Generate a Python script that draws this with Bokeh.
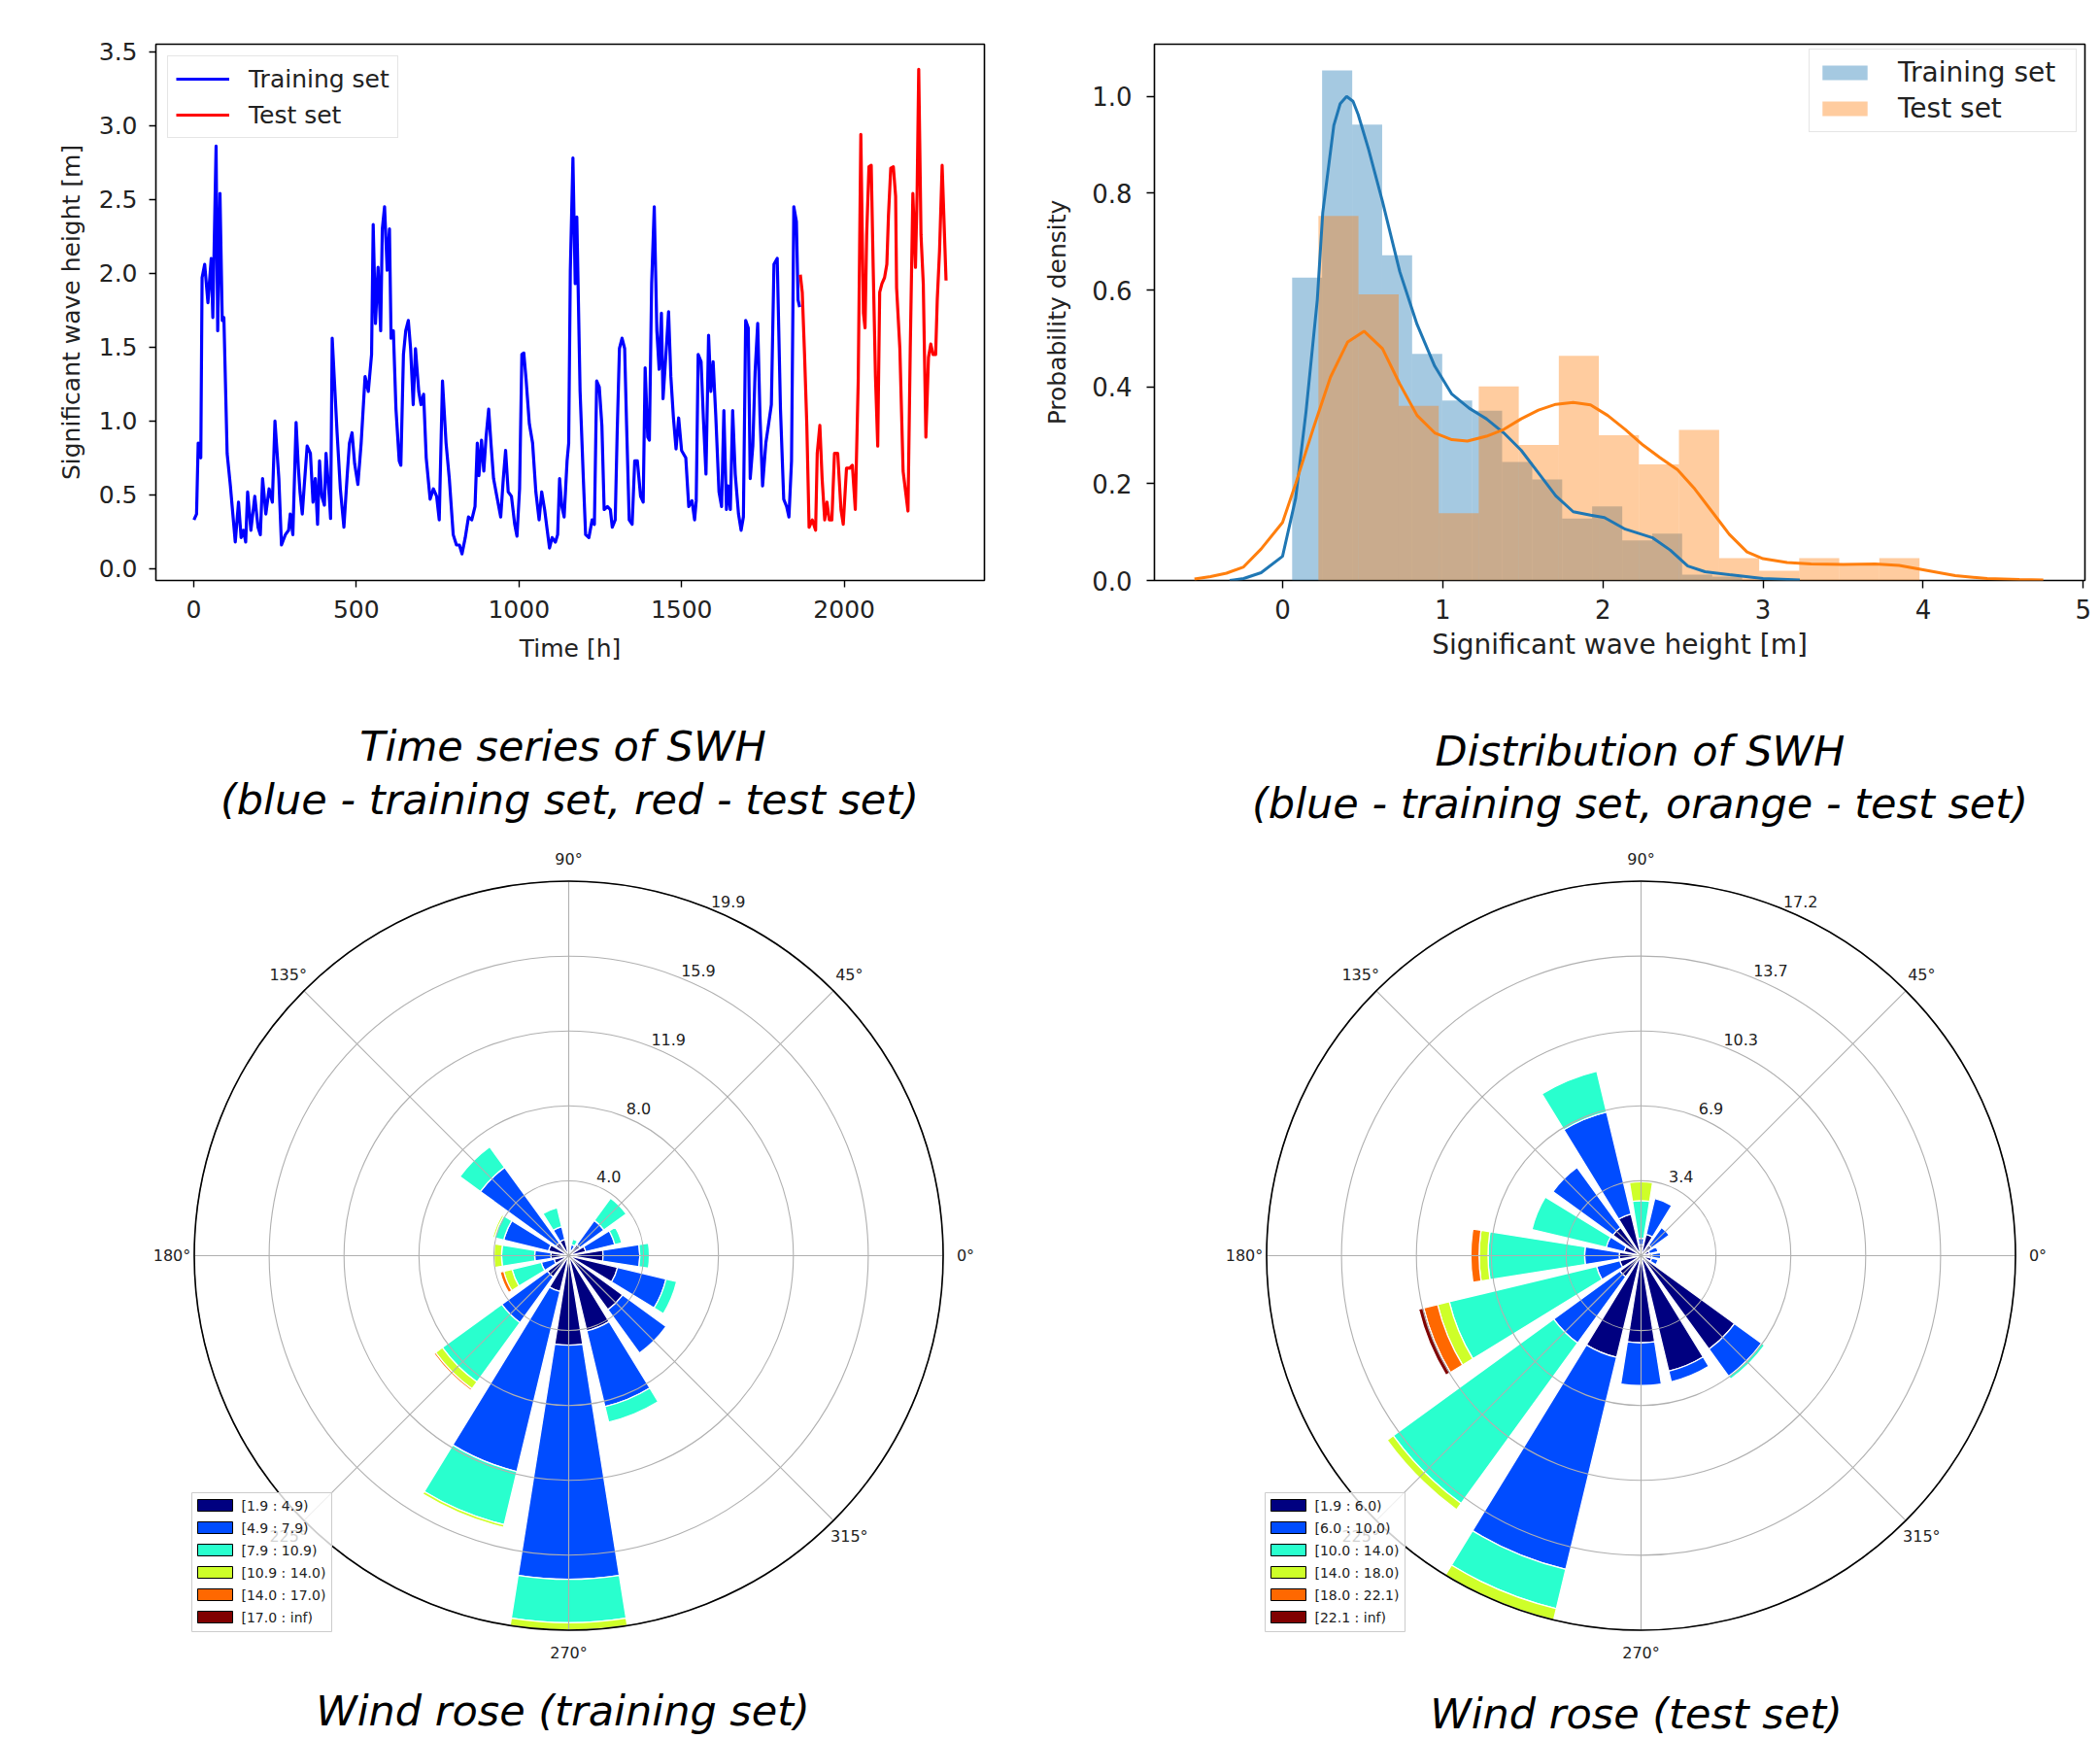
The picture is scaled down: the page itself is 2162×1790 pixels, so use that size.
import numpy as np
from bokeh.plotting import figure
from bokeh.models import (Range1d, FixedTicker, PrintfTickFormatter, Legend,
                          LegendItem, ColumnDataSource)
from bokeh.layouts import row, column
from bokeh.embed import file_html
from bokeh.resources import INLINE
from bokeh.core.properties import value

FONT = "DejaVu Sans"
TXT = "#222222"

# ---------------- time series (SWH) ----------------
train_t = [1, 9, 14, 22, 26, 34, 44, 54, 59, 69, 74, 81, 88, 93, 103, 113, 128, 138, 146, 153,
           160, 166, 176, 188, 198, 205, 212, 222, 232, 242, 250, 262, 270, 282, 292, 297, 305,
           315, 322, 327, 334, 340, 349, 359, 367, 374, 381, 387, 394, 402, 407, 417, 421, 426,
           441, 451, 462, 472, 479, 487, 495, 505, 515, 527, 537, 547, 552, 559, 567, 575, 580,
           587, 595, 602, 607, 614, 622, 632, 637, 645, 652, 660, 667, 675, 682, 692, 699, 707,
           715, 727, 737, 747, 755, 765, 776, 786, 798, 808, 817, 825, 835, 845, 855, 865, 872,
           877, 885, 892, 899, 907, 914, 922, 932, 944, 952, 959, 967, 977, 987, 994, 1002, 1009,
           1015, 1022, 1032, 1042, 1052, 1062, 1070, 1079, 1087, 1094, 1102, 1112, 1119, 1125,
           1132, 1139, 1148, 1153, 1158, 1166, 1173, 1178, 1188, 1198, 1205, 1215, 1225, 1232,
           1239, 1247, 1255, 1262, 1272, 1281, 1287, 1296, 1302, 1309, 1317, 1325, 1331, 1339,
           1348, 1356, 1364, 1374, 1382, 1388, 1396, 1401, 1408, 1416, 1424, 1431, 1438, 1443,
           1453, 1460, 1467, 1475, 1483, 1491, 1500, 1513, 1522, 1532, 1540, 1545, 1551, 1560,
           1567, 1575, 1583, 1590, 1597, 1605, 1615, 1623, 1630, 1638, 1643, 1650, 1657, 1665,
           1675, 1683, 1690, 1697, 1705, 1711, 1719, 1726, 1734, 1741, 1749, 1759, 1767, 1776,
           1784, 1794, 1804, 1814, 1823, 1830, 1838, 1845, 1853, 1858, 1863]
train_swh = [0.33, 0.37, 0.85, 0.75, 1.97, 2.06, 1.80, 2.10, 1.70, 2.86, 1.61, 2.54, 1.68, 1.70,
             0.78, 0.56, 0.18, 0.45, 0.21, 0.26, 0.18, 0.52, 0.26, 0.49, 0.28, 0.23, 0.61, 0.37,
             0.54, 0.45, 1.00, 0.61, 0.16, 0.23, 0.26, 0.37, 0.23, 0.99, 0.68, 0.52, 0.37, 0.56,
             0.83, 0.78, 0.45, 0.61, 0.30, 0.73, 0.49, 0.43, 0.78, 0.49, 0.34, 1.56, 0.92, 0.54,
             0.28, 0.63, 0.85, 0.92, 0.71, 0.57, 0.85, 1.30, 1.20, 1.45, 2.33, 1.66, 2.04, 1.61,
             2.30, 2.45, 2.02, 2.30, 1.56, 1.61, 1.08, 0.73, 0.70, 1.45, 1.61, 1.68, 1.49, 1.11,
             1.49, 1.20, 1.11, 1.18, 0.75, 0.47, 0.54, 0.49, 0.33, 1.27, 0.85, 0.61, 0.23, 0.16,
             0.16, 0.10, 0.21, 0.35, 0.33, 0.42, 0.85, 0.63, 0.87, 0.66, 0.89, 1.08, 0.85, 0.61,
             0.49, 0.35, 0.61, 0.80, 0.52, 0.49, 0.30, 0.22, 0.54, 1.45, 1.46, 1.28, 0.98, 0.85,
             0.52, 0.33, 0.52, 0.40, 0.26, 0.14, 0.21, 0.18, 0.23, 0.61, 0.42, 0.35, 0.73, 0.85,
             2.02, 2.78, 1.93, 2.38, 1.20, 0.61, 0.23, 0.21, 0.33, 0.30, 1.27, 1.23, 0.97, 0.40,
             0.42, 0.40, 0.28, 0.33, 0.92, 1.49, 1.56, 1.49, 0.97, 0.33, 0.30, 0.73, 0.73, 0.49,
             0.45, 1.36, 0.89, 0.87, 1.93, 2.45, 1.61, 1.35, 1.73, 1.15, 1.49, 1.74, 1.30, 1.02,
             0.81, 1.02, 0.80, 0.75, 0.42, 0.46, 0.33, 0.46, 1.45, 1.40, 1.02, 0.64, 1.58, 1.20,
             1.40, 1.04, 0.52, 0.42, 1.07, 0.40, 0.56, 0.40, 1.07, 0.64, 0.37, 0.26, 0.35, 1.68,
             1.63, 0.61, 0.83, 1.33, 1.66, 1.04, 0.56, 0.85, 0.97, 1.11, 2.06, 2.10, 1.08, 0.47,
             0.42, 0.35, 0.73, 2.45, 2.35, 1.82, 1.77]
test_t = [1865, 1871, 1878, 1885, 1892, 1902, 1912, 1917, 1925, 1932, 1940, 1947, 1954, 1962,
          1970, 1980, 1990, 1997, 2007, 2017, 2025, 2034, 2043, 2051, 2059, 2064, 2069, 2076,
          2083, 2089, 2096, 2103, 2109, 2116, 2124, 2131, 2136, 2143, 2151, 2158, 2161, 2171,
          2181, 2196, 2203, 2211, 2219, 2224, 2229, 2236, 2243, 2251, 2259, 2266, 2273, 2281,
          2286, 2293, 2301, 2313]
test_swh = [1.99, 1.87, 1.45, 0.97, 0.28, 0.33, 0.26, 0.78, 0.97, 0.61, 0.33, 0.45, 0.33, 0.33,
            0.78, 0.78, 0.40, 0.30, 0.68, 0.68, 0.70, 0.40, 1.27, 2.94, 1.73, 1.63, 2.26, 2.72,
            2.73, 2.04, 1.30, 0.83, 1.87, 1.93, 1.97, 2.06, 2.39, 2.71, 2.72, 2.52, 1.90, 1.49,
            0.66, 0.39, 1.49, 2.54, 2.04, 2.54, 3.38, 2.26, 1.93, 0.89, 1.43, 1.52, 1.45, 1.45,
            1.82, 2.15, 2.73, 1.95]
ts_xticks = [0, 500, 1000, 1500, 2000]
ts_yticks = [0.0, 0.5, 1.0, 1.5, 2.0, 2.5, 3.0, 3.5]

# ---------------- distribution (histogram + KDE) ----------------
train_edges = [0.06, 0.247, 0.435, 0.622, 0.809, 0.997, 1.184, 1.371, 1.559, 1.746, 1.933,
               2.121, 2.308, 2.495, 2.683, 2.87]
train_density = [0.626, 1.054, 0.942, 0.672, 0.468, 0.372, 0.351, 0.245, 0.209, 0.128, 0.153,
                 0.083, 0.097, 0.012, 0.008]
test_edges = [0.224, 0.474, 0.725, 0.975, 1.225, 1.475, 1.725, 1.975, 2.225, 2.475, 2.726,
              2.976, 3.226, 3.476, 3.726, 3.977]
test_density = [0.753, 0.591, 0.361, 0.139, 0.401, 0.280, 0.464, 0.300, 0.240, 0.311, 0.046,
                0.020, 0.046, 0.035, 0.046]
train_kde_x = [-0.33, -0.243, -0.134, 0.0, 0.082, 0.147, 0.217, 0.251, 0.32, 0.36, 0.40, 0.44,
               0.472, 0.537, 0.624, 0.732, 0.84, 0.95, 1.057, 1.165, 1.273, 1.381, 1.49, 1.598,
               1.706, 1.815, 1.923, 2.01, 2.14, 2.312, 2.42, 2.53, 2.638, 2.79, 3.0, 3.23]
train_kde_y = [0.0, 0.004, 0.016, 0.05, 0.17, 0.35, 0.58, 0.76, 0.94, 0.985, 1.0, 0.99, 0.963,
               0.891, 0.783, 0.638, 0.529, 0.443, 0.385, 0.356, 0.334, 0.305, 0.269, 0.222,
               0.175, 0.142, 0.135, 0.13, 0.106, 0.088, 0.063, 0.03, 0.018, 0.012, 0.004, 0.001]
test_kde_x = [-0.55, -0.45, -0.35, -0.243, -0.134, 0.0, 0.082, 0.19, 0.299, 0.407, 0.509, 0.624,
              0.732, 0.84, 0.95, 1.057, 1.154, 1.273, 1.381, 1.49, 1.598, 1.706, 1.815, 1.923,
              2.03, 2.14, 2.25, 2.356, 2.466, 2.574, 2.682, 2.79, 2.9, 3.0, 3.15, 3.3, 3.5, 3.7,
              3.85, 4.0, 4.2, 4.4, 4.6, 4.75]
test_kde_y = [0.003, 0.008, 0.015, 0.028, 0.065, 0.12, 0.2, 0.312, 0.42, 0.493, 0.515, 0.479,
              0.406, 0.341, 0.305, 0.291, 0.288, 0.298, 0.312, 0.334, 0.352, 0.364, 0.368, 0.363,
              0.341, 0.312, 0.28, 0.254, 0.229, 0.189, 0.142, 0.095, 0.059, 0.045, 0.037, 0.034,
              0.033, 0.034, 0.031, 0.022, 0.010, 0.004, 0.002, 0.001]
hist_xticks = [0, 1, 2, 3, 4, 5]
hist_yticks = [0.0, 0.2, 0.4, 0.6, 0.8, 1.0]

# ---------------- wind roses (frequency %, per speed bin, per direction) ----------------
directions = [0, 22.5, 45, 67.5, 90, 112.5, 135, 157.5, 180, 202.5, 225, 247.5, 270, 292.5, 315, 337.5]
train_b1 = [1.83, 0.93, 0.73, 0.30, 0.20, 0.88, 0.85, 1.10, 0.95, 0.80, 1.40, 1.96, 4.76, 4.11, 3.55, 2.67]
train_b2 = [1.95, 1.59, 1.59, 0.30, 0.15, 0.70, 4.95, 2.45, 0.86, 0.70, 3.00, 9.84, 12.44, 4.14, 2.85, 2.65]
train_b3 = [0.51, 0.38, 1.46, 0.30, 0.05, 1.04, 1.35, 0.50, 1.76, 1.60, 3.90, 2.90, 2.30, 0.85, 0.00, 0.58]
train_b4 = [0, 0, 0, 0, 0, 0, 0, 0.10, 0.40, 0.45, 0.45, 0.15, 0.40, 0, 0, 0]
train_b5 = [0, 0, 0, 0, 0, 0, 0, 0, 0, 0.20, 0.10, 0, 0, 0, 0, 0]
train_b6 = [0, 0, 0, 0, 0, 0, 0, 0, 0, 0, 0, 0, 0, 0, 0, 0]
test_b1 = [0.5, 0.4, 0.6, 1.0, 0.5, 1.97, 1.6, 0.8, 1.0, 1.0, 1.2, 4.8, 4.0, 5.45, 5.3, 0.5]
test_b2 = [0.4, 0.4, 1.0, 1.7, 0.3, 4.81, 3.4, 0.84, 1.59, 1.1, 3.75, 10.0, 1.96, 0.5, 1.54, 0.3]
test_b3 = [0, 0, 0, 0, 1.72, 1.92, 0, 3.51, 4.43, 6.95, 9.1, 1.85, 0, 0, 0.16, 0]
test_b4 = [0, 0, 0, 0, 0.87, 0, 0, 0, 0.41, 0.55, 0.35, 0.53, 0, 0, 0, 0]
test_b5 = [0, 0, 0, 0, 0, 0, 0, 0, 0.38, 0.66, 0, 0, 0, 0, 0, 0]
test_b6 = [0, 0, 0, 0, 0, 0, 0, 0, 0, 0.24, 0, 0, 0, 0, 0, 0]
train_bins = ["[1.9 : 4.9)", "[4.9 : 7.9)", "[7.9 : 10.9)", "[10.9 : 14.0)", "[14.0 : 17.0)", "[17.0 : inf)"]
test_bins = ["[1.9 : 6.0)", "[6.0 : 10.0)", "[10.0 : 14.0)", "[14.0 : 18.0)", "[18.0 : 22.1)", "[22.1 : inf)"]
train_rmax = 19.9
test_rmax = 17.18
train_ring_labels = ["4.0", "8.0", "11.9", "15.9", "19.9"]
test_ring_labels = ["3.4", "6.9", "10.3", "13.7", "17.2"]
angle_ticks = [0, 45, 90, 135, 180, 225, 270, 315]
angle_labels = ["0°", "45°", "90°", "135°", "180°", "225°", "270°", "315°"]
jet6 = ["#000080", "#004cff", "#29ffce", "#ceff29", "#ff6800", "#800000"]


def style_axes(p, tick_px, xlab_px, ylab_px, tick_out, xstand, ystand, xlstand, ylstand):
    p.outline_line_color = "black"
    p.outline_line_width = 1.6
    p.xgrid.visible = False
    p.ygrid.visible = False
    for ax in p.axis:
        ax.axis_line_color = None
        ax.major_tick_line_color = "black"
        ax.major_tick_line_width = 1.4
        ax.major_tick_out = tick_out
        ax.major_tick_in = 0
        ax.minor_tick_line_color = None
        ax.major_label_text_font = FONT
        ax.major_label_text_font_size = f"{tick_px}px"
        ax.major_label_text_color = TXT
        ax.axis_label_text_font = FONT
        ax.axis_label_text_font_style = "normal"
        ax.axis_label_text_color = TXT
    p.xaxis.axis_label_text_font_size = f"{xlab_px}px"
    p.yaxis.axis_label_text_font_size = f"{ylab_px}px"
    p.xaxis.major_label_standoff = xstand
    p.yaxis.major_label_standoff = ystand
    p.xaxis.axis_label_standoff = xlstand
    p.yaxis.axis_label_standoff = ylstand


# ---------------- panel 1: time series ----------------
p_ts = figure(width=1030, height=724, x_range=Range1d(-116, 2431), y_range=Range1d(-0.08, 3.55),
              output_backend="svg", toolbar_location=None,
              min_border_left=160, min_border_right=17, min_border_top=45, min_border_bottom=124,
              x_axis_label="Time [h]", y_axis_label="Significant wave height [m]")
r_tr = p_ts.line(train_t, train_swh, line_color="#0000ff", line_width=3.2, line_join="round")
r_te = p_ts.line(test_t, test_swh, line_color="#ff0000", line_width=3.2, line_join="round")
p_ts.xaxis.ticker = FixedTicker(ticks=ts_xticks)
p_ts.yaxis.ticker = FixedTicker(ticks=ts_yticks)
p_ts.yaxis.formatter = PrintfTickFormatter(format="%.1f")
style_axes(p_ts, 25, 25, 25, 7, 13, 12, 14, 11)
leg_ts = Legend(items=[LegendItem(label="Training set", renderers=[r_tr]),
                       LegendItem(label="Test set", renderers=[r_te])],
                location="top_left", margin=12, padding=8, spacing=7,
                glyph_width=55, glyph_height=20, label_standoff=20, label_height=30,
                label_text_font=FONT, label_text_font_size="25px", label_text_color=TXT,
                border_line_color="#cccccc", border_line_width=1.2, background_fill_alpha=0.8)
p_ts.add_layout(leg_ts)

# ---------------- panel 2: histogram + KDE ----------------
p_h = figure(width=1132, height=724, x_range=Range1d(-0.8, 5.01), y_range=Range1d(0, 1.108),
             output_backend="svg", toolbar_location=None,
             min_border_left=158, min_border_right=16, min_border_top=40, min_border_bottom=127,
             x_axis_label="Significant wave height [m]", y_axis_label="Probability density")
r_htr = p_h.quad(left=train_edges[:-1], right=train_edges[1:], bottom=0, top=train_density,
                 fill_color="#1f77b4", fill_alpha=0.4, line_color=None)
r_hte = p_h.quad(left=test_edges[:-1], right=test_edges[1:], bottom=0, top=test_density,
                 fill_color="#ff7f0e", fill_alpha=0.4, line_color=None)
p_h.line(train_kde_x, train_kde_y, line_color="#1f77b4", line_width=3)
p_h.line(test_kde_x, test_kde_y, line_color="#ff7f0e", line_width=3)
p_h.xaxis.ticker = FixedTicker(ticks=hist_xticks)
p_h.yaxis.ticker = FixedTicker(ticks=hist_yticks)
p_h.yaxis.formatter = PrintfTickFormatter(format="%.1f")
style_axes(p_h, 26, 28, 25, 8, 11, 15, 7, 18)
# legend: bottom-left corner given in frame pixels (frame 958 x 557 px)
leg_h = Legend(items=[LegendItem(label="Training set", renderers=[r_htr]),
                      LegendItem(label="Test set", renderers=[r_hte])],
               location=(674, 461), margin=0, padding=7, spacing=4,
               glyph_width=58, glyph_height=19, label_standoff=26, label_height=30,
               label_width=176,
               label_text_font=FONT, label_text_font_size="28px", label_text_color=TXT,
               border_line_color="#cccccc", border_line_width=1.2, background_fill_alpha=0.8)
p_h.add_layout(leg_h)


# ---------------- panels 3/4: wind roses ----------------
def rose(width, height, cx, cy, rmax, bins, bin_labels, ring_labels, captions, box_xy):
    s = 385.5 / rmax  # px per data unit

    def X(px):
        return (px - cx) / s

    def Y(py):
        return (cy - py) / s

    p = figure(width=width, height=height, output_backend="svg", toolbar_location=None,
               x_range=Range1d(X(0), X(width)), y_range=Range1d(Y(height), Y(0)),
               x_axis_type=None, y_axis_type=None, min_border=0)
    p.outline_line_color = None
    dirs = np.array(directions, dtype=float)
    cum = np.zeros(len(dirs))
    half = 9.0
    for f, col in zip(bins, jet6):
        f = np.array(f, dtype=float)
        m = f > 0
        src = ColumnDataSource(dict(inner=cum[m], outer=(cum + f)[m],
                                    start=np.radians(dirs[m] - half),
                                    end=np.radians(dirs[m] + half)))
        p.annular_wedge(x=0, y=0, inner_radius="inner", outer_radius="outer",
                        start_angle="start", end_angle="end", fill_color=col,
                        line_color="white", line_width=1.3, source=src)
        cum = cum + f
    # grid (above bars, as in matplotlib polar axes)
    rings = [rmax * k / 5 for k in range(1, 6)]
    p.circle(x=[0] * 5, y=[0] * 5, radius=rings, fill_color=None,
             line_color="#b0b0b0", line_width=1.1)
    a = np.radians(np.array(angle_ticks, dtype=float))
    p.segment(x0=[0] * 8, y0=[0] * 8, x1=list(rmax * np.cos(a)), y1=list(rmax * np.sin(a)),
              line_color="#b0b0b0", line_width=1.1)
    p.circle(x=[0], y=[0], radius=[rmax], fill_color=None, line_color="black", line_width=1.6)
    # angle labels
    ra = rmax + 23 / s
    p.text(x=list(ra * np.cos(a)), y=list(ra * np.sin(a)), text=angle_labels,
           text_font=value(FONT), text_font_size=value("16px"), text_color=TXT,
           text_align="center", text_baseline="middle")
    # radial labels: anchored on each ring at 66.5 deg, shifted a fixed few pixels
    ang = np.radians(66.5)
    rr = np.array(rings)
    p.text(x=list(rr * np.cos(ang) + 10.5 / s), y=list(rr * np.sin(ang) + 10.5 / s),
           text=ring_labels,
           text_font=value(FONT), text_font_size=value("16px"), text_color=TXT,
           text_align="center", text_baseline="middle")
    # captions (canvas pixels -> data)
    for (px, py, txt) in captions:
        p.text(x=[X(px)], y=[Y(py)], text=[txt],
               text_font=value(FONT), text_font_size=value("43px"), text_font_style="italic",
               text_color="black", text_align="center", text_baseline="middle")
    # legend box drawn by hand (matplotlib-like)
    bx, by = box_xy
    p.quad(left=[X(bx)], right=[X(bx + 144)], top=[Y(by)], bottom=[Y(by + 143)],
           fill_color="white", fill_alpha=0.8, line_color="#cccccc", line_width=1)
    ys = [by + 13 + 23 * k for k in range(6)]
    p.quad(left=[X(bx + 6)] * 6, right=[X(bx + 42)] * 6,
           top=[Y(y - 6) for y in ys], bottom=[Y(y + 6) for y in ys],
           fill_color=jet6, line_color="black", line_width=1)
    p.text(x=[X(bx + 51)] * 6, y=[Y(y) for y in ys], text=bin_labels,
           text_font=value(FONT), text_font_size=value("14px"), text_color=TXT,
           text_align="left", text_baseline="middle")
    return p


# rose figures occupy page y 724..1788; left: page x 0..1140, right: 1140..2162
p_rl = rose(1140, 1064, 585, 568, train_rmax,
            [train_b1, train_b2, train_b3, train_b4, train_b5, train_b6],
            train_bins, train_ring_labels,
            [(579, 43, "Time series of SWH"),
             (586, 98, "(blue - training set, red - test set)"),
             (579, 1036, "Wind rose (training set)")],
            (197, 812))
p_rr = rose(1022, 1064, 549, 568, test_rmax,
            [test_b1, test_b2, test_b3, test_b4, test_b5, test_b6],
            test_bins, test_ring_labels,
            [(548, 48, "Distribution of SWH"),
             (548, 102, "(blue - training set, orange - test set)"),
             (544, 1039, "Wind rose (test set)")],
            (162, 812))

layout = column(row(p_ts, p_h), row(p_rl, p_rr))
open("out.html", "w").write(file_html(layout, INLINE, title="SWH"))
